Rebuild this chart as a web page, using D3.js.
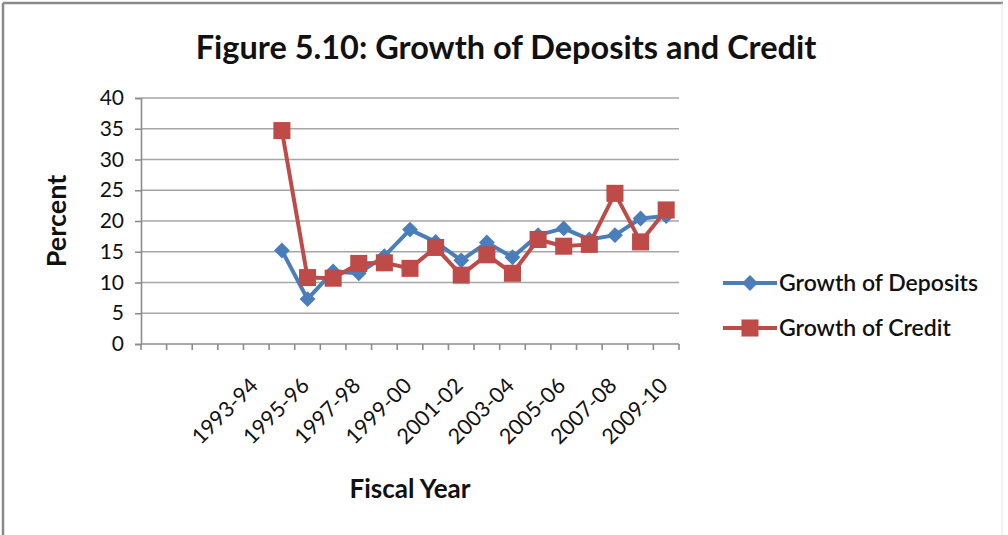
<!DOCTYPE html>
<html>
<head>
<meta charset="utf-8">
<script src="https://cdn.jsdelivr.net/npm/d3@7"></script>
<style>
  html, body { margin: 0; padding: 0; background: #fff; }
  svg { display: block; }
  text { font-family: Lato, "Open Sans", sans-serif; fill: #111; }
</style>
</head>
<body>
<svg id="chart" width="1008" height="535"></svg>
<script>
// Fiscal years on the category axis (first four carry no data)
const categories = [
  "1989-90", "1990-91", "1991-92", "1992-93", "1993-94", "1994-95",
  "1995-96", "1996-97", "1997-98", "1998-99", "1999-00", "2000-01",
  "2001-02", "2002-03", "2003-04", "2004-05", "2005-06", "2006-07",
  "2007-08", "2008-09", "2009-10"
];
// Axis labels shown on every second year
const tickLabels = [
  "1993-94", "1995-96", "1997-98", "1999-00", "2001-02",
  "2003-04", "2005-06", "2007-08", "2009-10"
];
// Annual growth, percent
const deposits = [
  null, null, null, null, null, 15.2,
  7.3, 11.8, 11.5, 14.3, 18.6, 16.6,
  13.6, 16.5, 14.1, 17.7, 18.8, 17.0,
  17.7, 20.4, 20.8
];
const credit = [
  null, null, null, null, null, 34.7,
  10.8, 10.7, 13.1, 13.2, 12.3, 15.7,
  11.2, 14.5, 11.5, 17.0, 15.9, 16.2,
  24.5, 16.6, 21.8
];
const yTicks = [0, 5, 10, 15, 20, 25, 30, 35, 40];
const seriesNames = ["Growth of Deposits", "Growth of Credit"];

const blue = "#4a7ebb", red = "#be4b48";
const svg = d3.select("#chart");

// outer frame
svg.append("line").attr("x1", 3).attr("x2", 1003).attr("y1", 3).attr("y2", 3)
  .attr("stroke", "#8a8a8a").attr("stroke-width", 2.5);
svg.append("line").attr("x1", 3).attr("x2", 3).attr("y1", 3).attr("y2", 535)
  .attr("stroke", "#8a8a8a").attr("stroke-width", 2.5);
svg.append("line").attr("x1", 1002).attr("x2", 1002).attr("y1", 3).attr("y2", 535)
  .attr("stroke", "#e4e4e4").attr("stroke-width", 1);

const plot = { left: 141, right: 679, top: 98, bottom: 344 };

const x = d3.scaleBand().domain(categories).range([plot.left, plot.right]).padding(0);
const y = d3.scaleLinear().domain([0, 40]).range([plot.bottom, plot.top]);

// horizontal gridlines
svg.append("g").selectAll("line").data(yTicks.filter(d => d > 0)).join("line")
  .attr("x1", plot.left).attr("x2", plot.right)
  .attr("y1", d => y(d)).attr("y2", d => y(d))
  .attr("stroke", "#a6a6a6").attr("stroke-width", 1.6);

// y axis
const yAxis = svg.append("g").attr("transform", `translate(${plot.left},0)`)
  .call(d3.axisLeft(y).tickValues(yTicks).tickSize(6).tickPadding(11).tickFormat(d3.format("d")));
yAxis.select(".domain").attr("stroke", "#8c8c8c").attr("stroke-width", 1.6);
yAxis.selectAll(".tick line").attr("stroke", "#8c8c8c").attr("stroke-width", 1.6);
yAxis.selectAll(".tick text").style("font-family", "Lato, sans-serif")
  .style("font-size", "21px").attr("fill", "#222");

// x axis: boundary ticks between categories
const bounds = categories.map(c => x(c)).concat([x(categories[categories.length - 1]) + x.bandwidth()]);
const xAxis = svg.append("g");
xAxis.append("line").attr("x1", plot.left).attr("x2", plot.right)
  .attr("y1", plot.bottom).attr("y2", plot.bottom)
  .attr("stroke", "#8c8c8c").attr("stroke-width", 1.6);
xAxis.selectAll("line.tk").data(bounds).join("line").attr("class", "tk")
  .attr("x1", d => d).attr("x2", d => d)
  .attr("y1", plot.bottom).attr("y2", plot.bottom + 6)
  .attr("stroke", "#8c8c8c").attr("stroke-width", 1.6);
xAxis.selectAll("text").data(tickLabels).join("text")
  .attr("transform", d => `translate(${x(d) + x.bandwidth() / 2 + 3},${plot.bottom + 43}) rotate(-45)`)
  .attr("text-anchor", "end")
  .style("font-size", "21.5px").attr("fill", "#1a1a1a")
  .text(d => d);

// series lines and markers
const line = d3.line()
  .defined(d => d.v != null)
  .x(d => x(d.c) + x.bandwidth() / 2)
  .y(d => y(d.v));

const seriesData = [
  { name: seriesNames[0], color: blue, values: categories.map((c, i) => ({ c, v: deposits[i] })), shape: "diamond" },
  { name: seriesNames[1], color: red, values: categories.map((c, i) => ({ c, v: credit[i] })), shape: "square" }
];

const diamondPath = d3.symbol().type(d3.symbolDiamond2).size(160)();
const squarePath = d3.symbol().type(d3.symbolSquare2).size(370)();

seriesData.forEach(s => {
  const g = svg.append("g");
  g.append("path").datum(s.values).attr("d", line)
    .attr("fill", "none").attr("stroke", s.color).attr("stroke-width", 4)
    .attr("stroke-linejoin", "round");
  g.selectAll("path.m").data(s.values.filter(d => d.v != null)).join("path").attr("class", "m")
    .attr("transform", d => `translate(${x(d.c) + x.bandwidth() / 2},${y(d.v)})`)
    .attr("d", s.shape === "diamond" ? diamondPath : squarePath)
    .attr("fill", s.color);
});

// legend
const legend = svg.append("g");
seriesData.forEach((s, i) => {
  const ly = 283 + i * 45;
  legend.append("line").attr("x1", 723).attr("x2", 777).attr("y1", ly).attr("y2", ly)
    .attr("stroke", s.color).attr("stroke-width", 4);
  legend.append("path").attr("transform", `translate(750,${ly})`)
    .attr("d", s.shape === "diamond" ? diamondPath : squarePath).attr("fill", s.color);
  legend.append("text").attr("x", 779).attr("y", ly + 8)
    .style("font-size", "23px").style("font-weight", "600")
    .text(s.name);
});

// titles
svg.append("text").attr("x", 506).attr("y", 59).attr("text-anchor", "middle")
  .style("font-size", "32.5px").style("font-weight", "bold")
  .text("Figure 5.10: Growth of Deposits and Credit");
svg.append("text").attr("transform", "translate(66,221) rotate(-90)").attr("text-anchor", "middle")
  .style("font-size", "27px").style("font-weight", "bold").text("Percent");
svg.append("text").attr("x", 410).attr("y", 498).attr("text-anchor", "middle")
  .style("font-size", "26px").style("font-weight", "bold").text("Fiscal Year");
</script>
</body>
</html>
